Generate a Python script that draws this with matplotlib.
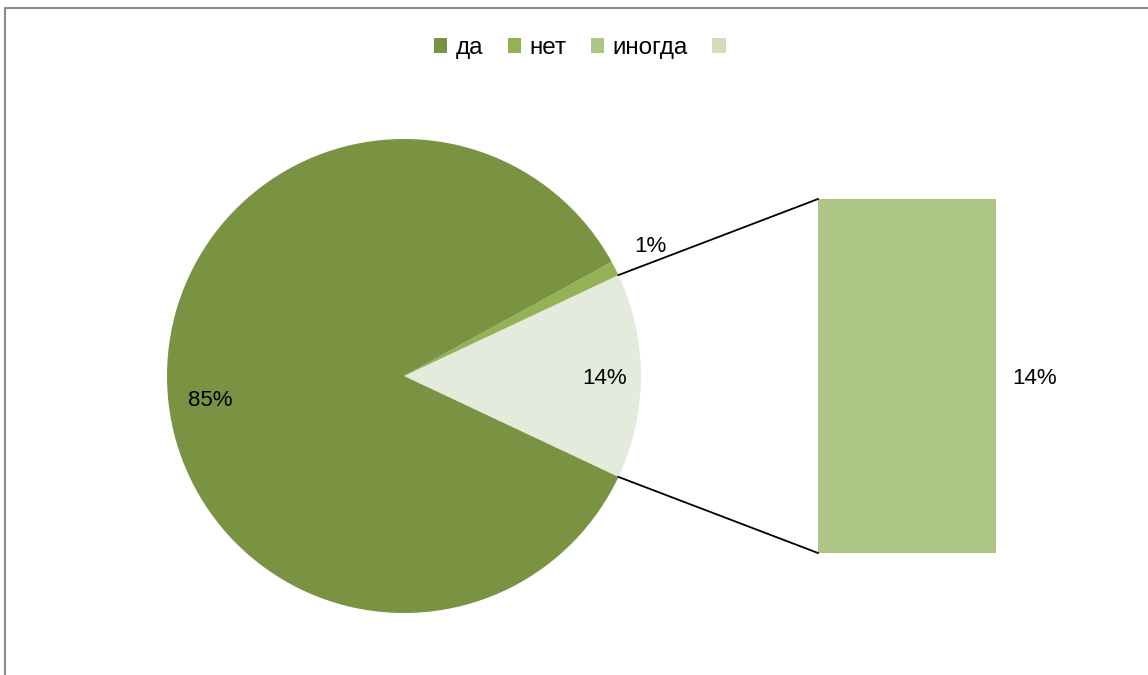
import numpy as np
import matplotlib.pyplot as plt
from matplotlib.patches import Patch

labels = ['да', 'нет', 'иногда', '']
values = [85, 1, 14]
pie_colors = ['#7A9343', '#93B256', '#E4EBDC']
legend_colors = ['#7A9343', '#93B256', '#ADC686', '#CFDDBB']
bar_color = '#ADC686'

plt.rcParams['font.family'] = ['Liberation Sans', 'DejaVu Sans']

W, H = 1148, 675
fig = plt.figure(figsize=(W / 100, H / 100), dpi=100)
ax = fig.add_axes([0, 0, 1, 1])

# pie, the "other" slice (иногда) centred on the right side
cx, cy, r = 404, H - 376, 237
other = values[2]
start = -other / 2 * 3.6
ax.pie([values[2], values[1], values[0]], colors=[pie_colors[2], pie_colors[1], pie_colors[0]],
       startangle=start, radius=r, center=(cx, cy), frame=True,
       wedgeprops=dict(linewidth=0))
ax.set_xlim(0, W)
ax.set_ylim(0, H)
ax.set_aspect('auto')
ax.axis('off')

# bar for the split-off part
bx, bw, btop, bbot = 818, 178, H - 199, H - 553
scale = (btop - bbot) / other
ax.bar(bx + bw / 2, other * scale, width=bw, bottom=bbot, color=bar_color, linewidth=0)

# connector lines
a = np.deg2rad(other / 2 * 3.6)
p_up = (cx + r * np.cos(a), cy + r * np.sin(a))
p_dn = (cx + r * np.cos(a), cy - r * np.sin(a))
ax.plot([p_up[0], bx], [p_up[1], btop], color='black', lw=1.3)
ax.plot([p_dn[0], bx], [p_dn[1], bbot], color='black', lw=1.3)

# data labels
fs = 16
ax.text(210, H - 400, f'{values[0]}%', ha='center', va='center', fontsize=fs)
ax.text(650, H - 247, f'{values[1]}%', ha='center', va='center', fontsize=fs)
ax.text(605, H - 378, f'{values[2]}%', ha='center', va='center', fontsize=fs)
ax.text(1035, H - 378, f'{values[2]}%', ha='center', va='center', fontsize=fs)

# chart border
ax.plot([5, 5, W + 5], [-5, H - 8, H - 8], color='#898989', lw=1.5)

handles = [Patch(facecolor=c, edgecolor='none') for c in legend_colors]
fig.legend(handles, labels, loc='center', bbox_to_anchor=(584 / W, 1 - 48 / H), ncol=4,
           frameon=False, fontsize=17.5, handlelength=0.55, handleheight=0.55,
           handletextpad=0.35, columnspacing=1.0)

fig.savefig('out.png', dpi=100)
